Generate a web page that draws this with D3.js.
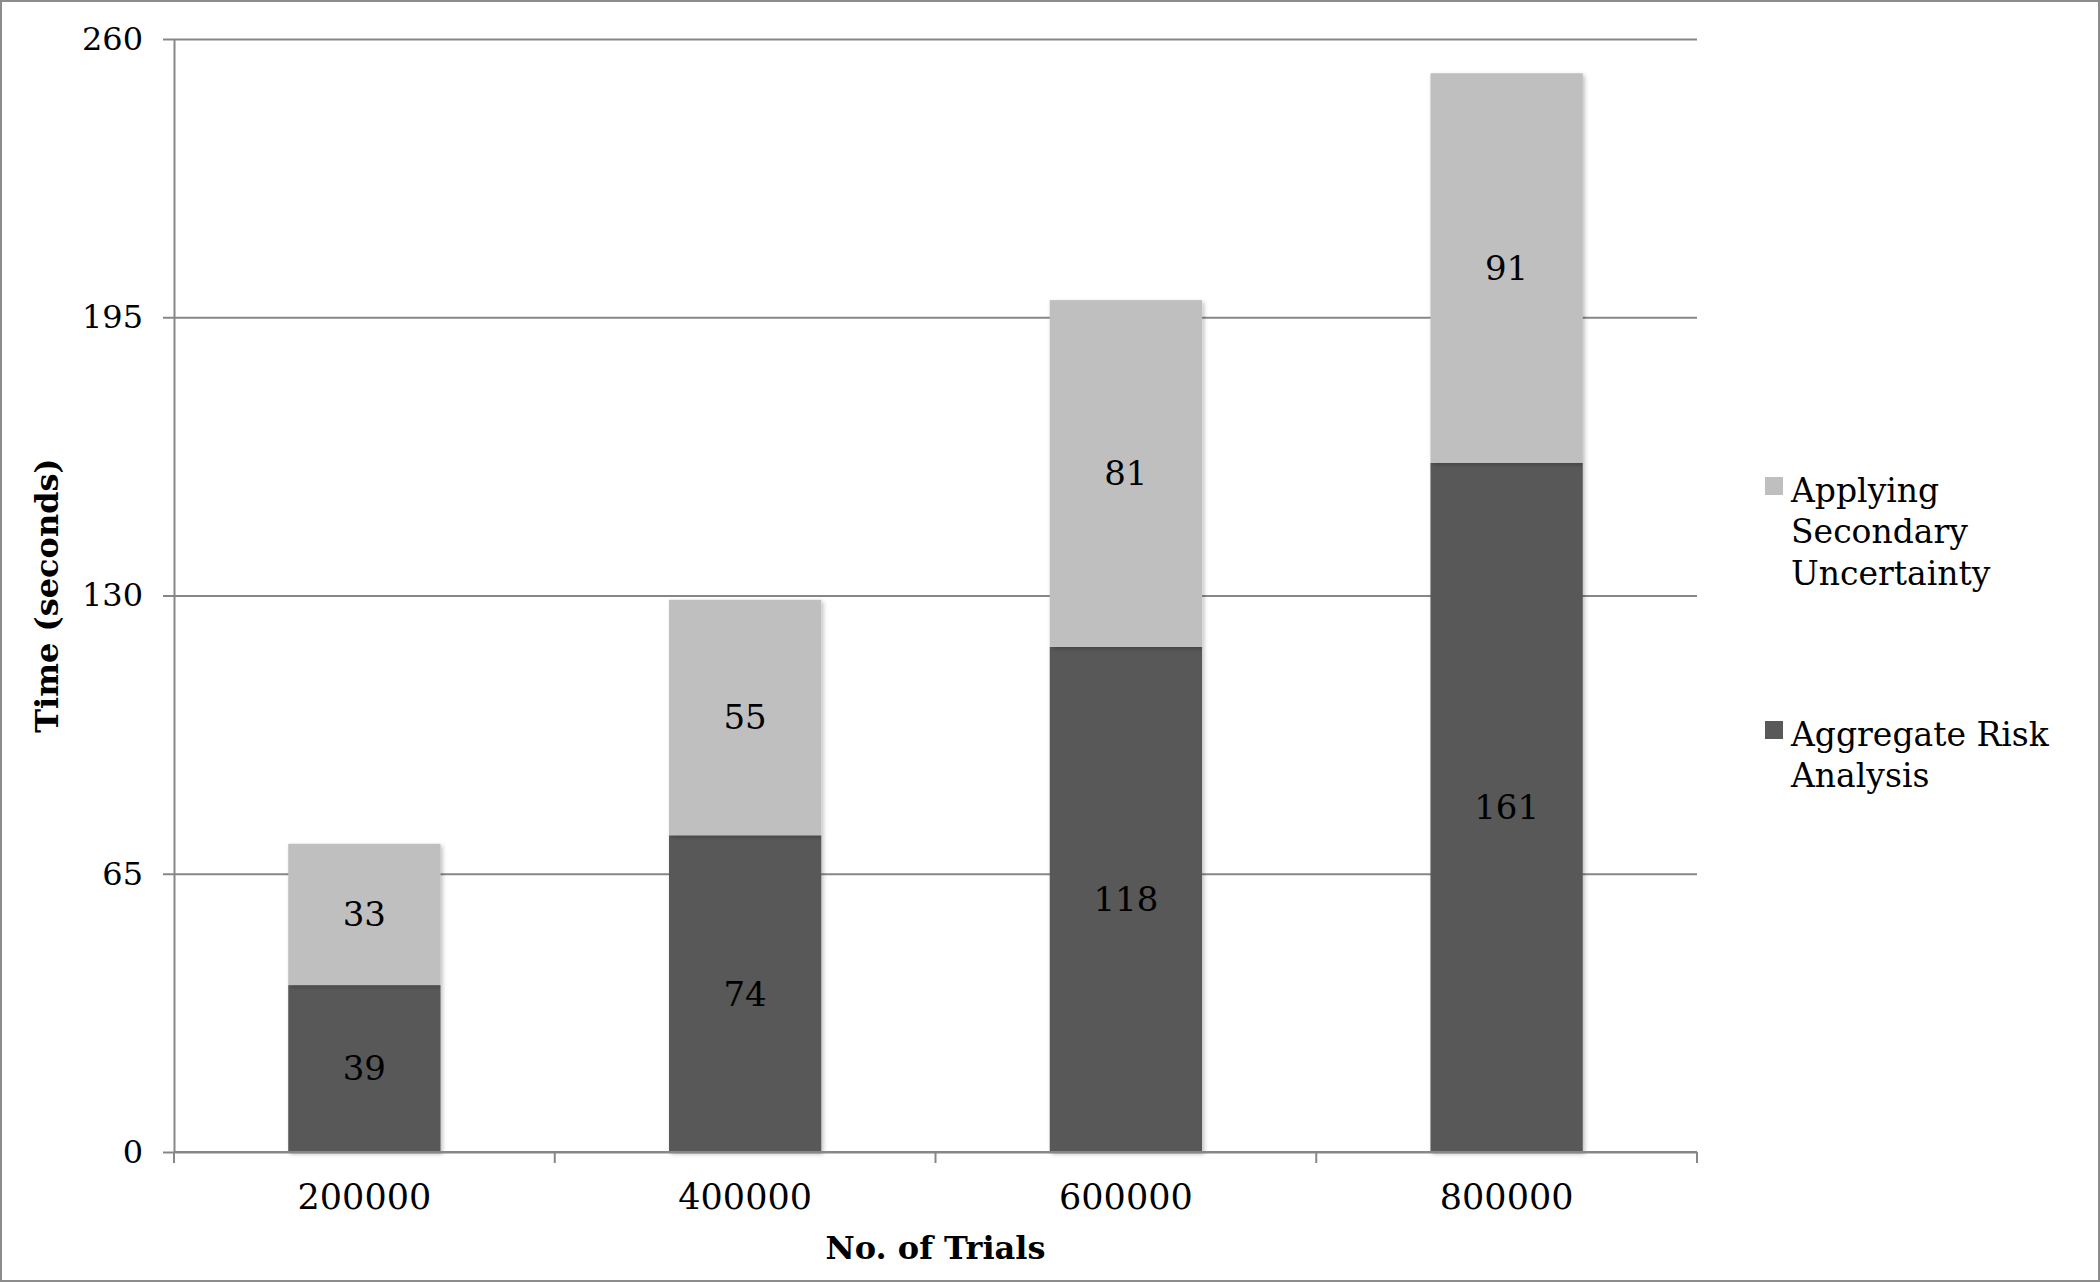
<!DOCTYPE html>
<html>
<head>
<meta charset="utf-8">
<script src="https://cdn.jsdelivr.net/npm/d3@7"></script>
<style>
  body { margin: 0; background: #fff; }
  svg text { font-family: "DejaVu Serif", serif; }
</style>
</head>
<body>
<div id="svg"></div>
<script>
const trials = ["200000", "400000", "600000", "800000"];
const aggregateRisk = [39, 74, 118, 161];
const secondaryUnc = [33, 55, 81, 91];
const yTicks = [0, 65, 130, 195, 260];
const seriesNames = ["Aggregate Risk Analysis", "Applying Secondary Uncertainty"];

const width = 2100,
      height = 1282;
const margin = {top: 39, right: 403, bottom: 130, left: 174};
const plotW = width - margin.left - margin.right,
      plotH = height - margin.top - margin.bottom;

const svg = d3.select("#svg")
  .append("svg")
    .attr("width", width)
    .attr("height", height);

// outer frame
svg.append("rect")
    .attr("x", 1).attr("y", 1)
    .attr("width", width - 2).attr("height", height - 2)
    .attr("fill", "#fff")
    .attr("stroke", "#8c8c8c")
    .attr("stroke-width", 2);

const defs = svg.append("defs");
defs.append("filter")
    .attr("id", "shadow")
    .attr("x", "-10%").attr("y", "-10%")
    .attr("width", "130%").attr("height", "130%")
  .append("feDropShadow")
    .attr("dx", 2).attr("dy", 2)
    .attr("stdDeviation", 2)
    .attr("flood-color", "#000")
    .attr("flood-opacity", 0.25);

const g = svg.append("g")
    .attr("transform", `translate(${margin.left},${margin.top})`);

const x = d3.scaleBand()
    .domain(trials)
    .range([0, plotW])
    .paddingInner(0.6)
    .paddingOuter(0.3);

const y = d3.scaleLinear()
    .domain([0, 260])
    .range([plotH, 0]);

const color = d3.scaleOrdinal()
    .domain(seriesNames)
    .range(["#595959", "#bfbfbf"]);

// gridlines
g.append("g")
    .call(d3.axisLeft(y).tickValues(yTicks).tickSize(-plotW).tickFormat(""))
    .call(a => a.select(".domain").remove())
    .selectAll("line")
      .attr("stroke", "#878787")
      .attr("stroke-width", 2);

// y axis
const yAxis = g.append("g")
    .call(d3.axisLeft(y).tickValues(yTicks).tickSize(11).tickPadding(20).tickSizeOuter(0));
yAxis.select(".domain").attr("stroke", "#878787").attr("stroke-width", 2);
yAxis.selectAll("line").attr("stroke", "#878787").attr("stroke-width", 2);
yAxis.selectAll("text")
    .attr("fill", "#000")
    .style("font-family", "DejaVu Serif")
    .style("font-size", "32px");

// stacked bars
const rows = trials.map((t, i) => ({
  trial: t,
  [seriesNames[0]]: aggregateRisk[i],
  [seriesNames[1]]: secondaryUnc[i]
}));
const stacked = d3.stack().keys(seriesNames)(rows);

const layers = g.append("g")
  .selectAll("g")
  .data(stacked)
  .join("g")
    .attr("fill", d => color(d.key));

layers.selectAll("rect")
  .data(d => d)
  .join("rect")
    .attr("x", d => x(d.data.trial))
    .attr("y", d => y(d[1]))
    .attr("width", x.bandwidth())
    .attr("height", d => y(d[0]) - y(d[1]))
    .attr("filter", "url(#shadow)");

layers.selectAll("text")
  .data(d => d)
  .join("text")
    .attr("x", d => x(d.data.trial) + x.bandwidth() / 2)
    .attr("y", d => y((d[0] + d[1]) / 2))
    .attr("dy", "0.35em")
    .attr("text-anchor", "middle")
    .attr("fill", "#000")
    .style("font-size", "34px")
    .text(d => d[1] - d[0]);

// x axis baseline and boundary ticks
const xAxis = g.append("g")
    .attr("transform", `translate(0,${plotH})`);
xAxis.append("line")
    .attr("x1", 0).attr("x2", plotW)
    .attr("stroke", "#878787")
    .attr("stroke-width", 2);
xAxis.selectAll(".bound")
  .data(d3.range(trials.length + 1))
  .join("line")
    .attr("class", "bound")
    .attr("x1", i => i * x.step())
    .attr("x2", i => i * x.step())
    .attr("y1", 0)
    .attr("y2", 11)
    .attr("stroke", "#878787")
    .attr("stroke-width", 2);

const xLabels = g.append("g")
    .attr("transform", `translate(0,${plotH})`)
    .call(d3.axisBottom(x).tickSize(0).tickPadding(32));
xLabels.select(".domain").remove();
xLabels.selectAll("text")
    .attr("fill", "#000")
    .style("font-family", "DejaVu Serif")
    .style("font-size", "35px");

// axis titles
svg.append("text")
    .attr("transform", `translate(47,${margin.top + plotH / 2}) rotate(-90)`)
    .attr("text-anchor", "middle")
    .attr("dy", "0.35em")
    .style("font-weight", "bold")
    .style("font-size", "32px")
    .text("Time (seconds)");

svg.append("text")
    .attr("x", margin.left + plotW / 2)
    .attr("y", 1248)
    .attr("dy", "0.35em")
    .attr("text-anchor", "middle")
    .style("font-weight", "bold")
    .style("font-size", "32px")
    .text("No. of Trials");

// legend
const legendItems = [
  {key: seriesNames[1], lines: ["Applying", "Secondary", "Uncertainty"], y: 490},
  {key: seriesNames[0], lines: ["Aggregate Risk", "Analysis"], y: 734}
];

const legend = svg.append("g")
  .selectAll("g")
  .data(legendItems)
  .join("g")
    .attr("transform", d => `translate(1765,${d.y})`);

legend.append("rect")
    .attr("x", 0)
    .attr("y", -13)
    .attr("width", 18)
    .attr("height", 18)
    .attr("fill", d => color(d.key));

legend.append("text")
    .attr("x", 26)
    .style("font-size", "33px")
    .selectAll("tspan")
    .data(d => d.lines)
    .join("tspan")
      .attr("x", 26)
      .attr("y", (d, i) => i * 41.5)
      .attr("dy", "0.35em")
      .text(d => d);
</script>
</body>
</html>
